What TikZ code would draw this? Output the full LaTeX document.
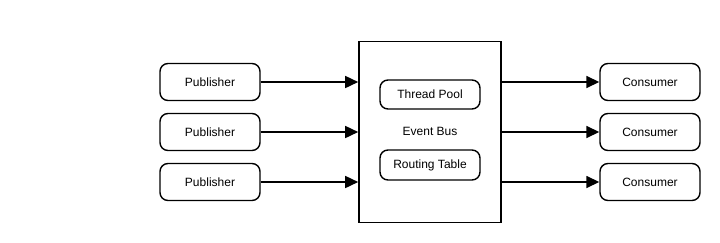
\documentclass[tikz,border=0pt]{standalone}
\usepackage{fontspec}
\setmainfont{Liberation Sans}
\usetikzlibrary{arrows.meta}
\begin{document}
\begin{tikzpicture}[x=1pt,y=-1pt,
  every node/.append style={font=\fontsize{12}{14}\selectfont},
  roundbox/.style={draw, line width=1.4pt, rounded corners=8pt, fill=white, inner sep=0pt},
  busbox/.style={draw, line width=1.6pt, fill=white, inner sep=0pt},
  flow/.style={line width=1.6pt, -{Triangle[length=13pt,width=12pt]}}]
  \useasboundingbox (0,0) rectangle (720,242);
  % central event bus
  \node[busbox, minimum width=142pt, minimum height=181pt] (bus) at (430,132) {};
  \node (buslabel) at (430,131.5) {Event Bus};
  \node[roundbox, minimum width=100pt, minimum height=29pt] (pool) at (430,94.5) {Thread Pool};
  \node[roundbox, minimum width=100pt, minimum height=30pt] (route) at (430,165) {Routing Table};
  % publishers
  \foreach \i/\y in {1/82,2/132,3/182}{
    \node[roundbox, minimum width=100pt, minimum height=37pt] (pub\i) at (210,\y) {Publisher};
    \node[roundbox, minimum width=100pt, minimum height=37pt] (con\i) at (650,\y) {Consumer};
    \coordinate (in\i) at (bus.west |- pub\i.east);
    \coordinate (out\i) at (bus.east |- con\i.west);
    \draw[flow] (pub\i.east) -- (in\i);
    \draw[flow] (out\i) -- (con\i.west);
  }
\end{tikzpicture}
\end{document}
